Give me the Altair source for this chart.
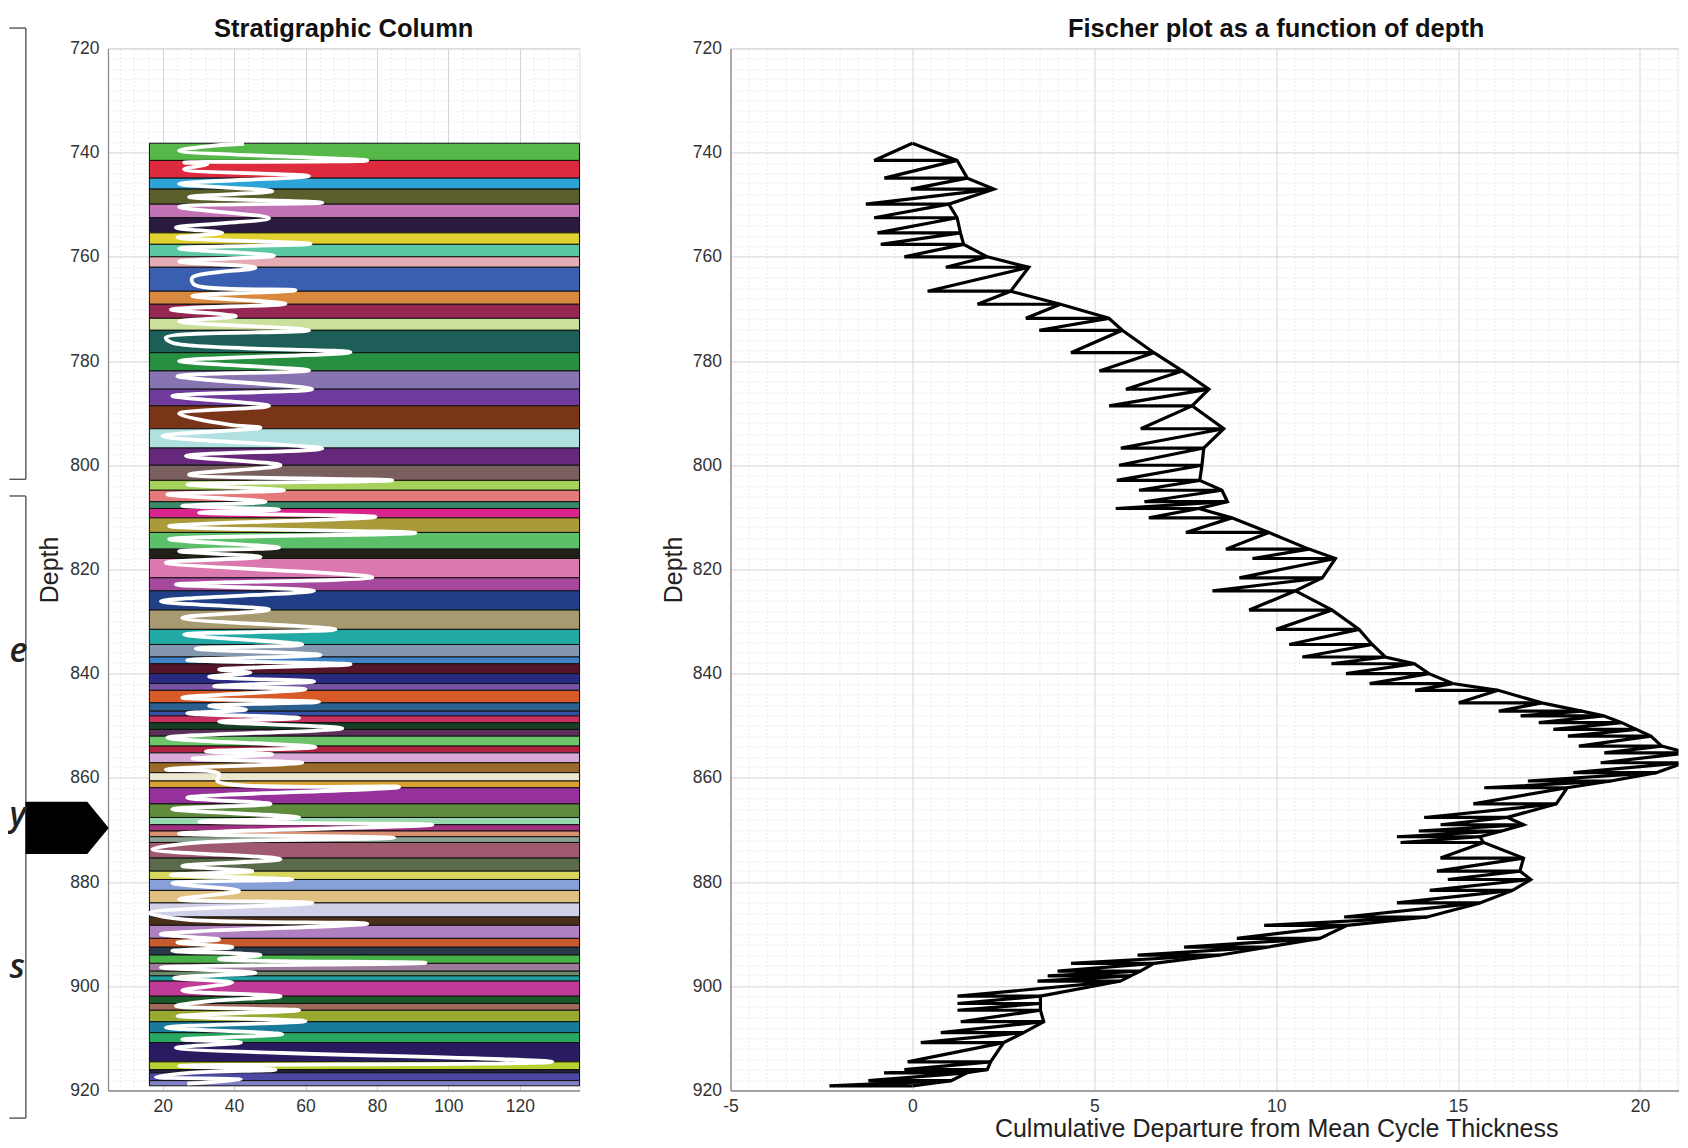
import altair as alt
import pandas as pd

# ---------------- data ----------------
# depths of the cycle (band) boundaries, top to bottom
band_edges = [738.2, 741.5, 744.9, 747.0, 749.9, 752.5, 755.4, 757.6, 760.0, 762.0,
              766.6, 769.1, 771.8, 774.1, 778.4, 781.9, 785.4, 788.6, 793.0, 796.7,
              800.0, 802.9, 804.8, 807.0, 808.3, 810.1, 812.9, 816.1, 817.9, 821.6,
              824.1, 827.8, 831.5, 834.4, 836.8, 838.1, 840.0, 841.9, 843.2, 845.6,
              847.2, 848.1, 849.4, 850.7, 852.0, 853.9, 855.2, 857.1, 859.0, 860.6,
              861.9, 865.0, 867.6, 869.0, 870.2, 871.3, 872.4, 875.4, 877.9, 879.5,
              881.6, 884.0, 886.7, 888.3, 890.8, 892.5, 894.0, 895.6, 897.1, 898.0,
              899.0, 901.9, 903.3, 904.6, 906.8, 908.9, 910.8, 914.5, 916.0, 916.6,
              918.1, 919.1]

band_colors = ["#55b848", "#dd2a3e", "#2ea3d6", "#5a5e2a", "#c172b5", "#2a1a40", "#e0d030", "#5cc7a5", "#e4adb5", "#3a5fb0",
               "#d8893d", "#962652", "#cbe09a", "#1d5e58", "#279040", "#8774b0", "#6e3b9c", "#7a3418", "#b0e0e0", "#66287a",
               "#7a5f5f", "#a6d15a", "#e57a7a", "#3a8a6a", "#d8248c", "#a99a3a", "#5cbf6a", "#1f1f17", "#dc78b0", "#a6489c",
               "#213f86", "#a89a70", "#22a8a5", "#8397ae", "#3f82c8", "#551528", "#2a2a80", "#7a55a5", "#d85a28", "#2a5f8e",
               "#3550a8", "#c83060", "#173f25", "#5a3058", "#6ec46a", "#b02040", "#d8a8d8", "#9a6a2a", "#ece8cf", "#d8a030",
               "#96309a", "#5f8c3c", "#98d8b0", "#a03080", "#d89070", "#8aa090", "#a05a70", "#5a6a4a", "#d8d860", "#88a0d8",
               "#e0c080", "#d0d0e8", "#4a3018", "#b080c0", "#c85a30", "#2a3a4a", "#48b048", "#a07a9a", "#6a8a6a", "#20a0a0",
               "#c03a98", "#1a5a2a", "#a06a5a", "#98a830", "#1a7a9a", "#28a860", "#2a1a60", "#b8d030", "#20203a", "#4a48a0",
               "#8080c8"]

column_left = 16.3
column_right = 136.7

# white well-log curve drawn over the column
log_depth = [738.3, 738.7, 739.6, 741.5, 741.9, 742.2, 743.2, 744.5, 746.0, 747.4,
             748.5, 749.6, 750.4, 752.6, 754.4, 755.4, 756.3, 757.5, 758.4, 759.8,
             760.9, 762.1, 764.0, 765.3, 766.4, 767.5, 769.0, 770.1, 771.4, 772.4,
             774.1, 775.5, 776.5, 778.3, 780.0, 781.8, 782.9, 785.4, 786.7, 788.6,
             790.1, 792.2, 792.8, 794.4, 796.8, 798.2,
             800.0, 801.8, 802.9, 803.7, 804.8, 805.6, 807.0, 807.8, 808.5, 809.1,
             809.9, 811.7, 813.0, 814.2, 815.8, 816.5, 817.6, 818.7, 821.5, 822.9,
             824.1, 826.1, 827.7, 829.3, 831.5, 832.5, 834.4, 835.2, 836.4, 837.4,
             838.2, 839.2, 839.8, 840.6, 841.5, 842.4, 843.0, 844.6, 845.4, 846.2,
             846.9, 847.6, 848.5, 849.2, 850.5, 852.3, 854.1, 854.9, 855.5, 856.3,
             857.1, 858.4, 859.2,
             860.6, 861.75, 863.8, 865.0, 866.0, 867.6, 868.4, 869.0, 870.7, 871.5,
             872.4, 873.7, 875.6, 876.9, 877.9, 878.6, 879.5, 880.2, 881.7, 883.3,
             884.0, 885.9, 887.2, 888.0, 890.0, 891.0, 891.6, 892.5, 893.2, 894.0,
             894.8, 895.5, 896.4, 897.4, 898.4, 899.3, 900.8, 901.9, 902.8, 903.8,
             904.6, 905.7, 906.7, 907.9, 909.2, 910.2, 910.8, 911.8, 914.5, 915.3,
             916.0, 916.6, 917.4, 917.9, 918.7]
log_value = [42.8, 33.9, 24.6, 77.3, 26.0, 32.5, 26.0, 61.0, 24.6, 50.7,
             27.4, 64.7, 24.6, 49.8, 23.7, 36.7, 24.1, 61.4, 24.6, 51.2,
             24.6, 46.0, 28.3, 28.8, 57.2, 28.3, 54.4, 22.3, 40.5, 24.6,
             61.0, 20.9, 22.7, 72.6, 24.6, 61.0, 24.1, 61.9, 22.7, 49.8,
             24.6, 38.6, 47.4, 19.9, 64.7, 26.5,
             53.0, 27.4, 84.3, 26.9, 54.0, 21.3, 48.8, 25.5, 52.6, 30.2,
             79.6, 21.8, 90.8, 21.8, 52.6, 24.6, 47.4, 20.9, 78.7, 23.7,
             62.4, 19.5, 49.8, 25.5, 68.4, 26.0, 59.1, 29.3, 64.2, 26.9,
             72.6, 35.8, 44.6, 33.0, 62.4, 34.4, 60.0, 25.5, 63.8, 33.0,
             43.3, 26.9, 58.2, 35.8, 70.3, 21.3, 62.8, 32.1, 50.7, 28.3,
             59.1, 20.9, 35.8,
             35.3, 86.2, 26.9, 50.2, 22.7, 58.2, 30.2, 95.5, 24.6, 84.8,
             30.7, 17.1, 53.0, 25.5, 45.1, 22.3, 56.3, 22.7, 41.4, 24.6,
             61.9, 16.2, 26.5, 77.3, 19.5, 35.8, 24.1, 39.5, 22.7, 47.4,
             35.8, 93.6, 19.5, 46.0, 23.2, 39.5, 25.5, 53.0, 33.9, 23.7,
             58.2, 24.1, 60.0, 20.9, 53.5, 25.5, 41.9, 23.7, 129.1, 24.6,
             51.6, 27.4, 18.1, 41.9, 26.9]

# Fischer plot: cumulative departure at each cycle boundary (right vertices)
cum_right = [0.00, 1.23, 1.51, 2.24, 1.00, 1.23, 1.32, 1.41, 2.06, 3.20,
             2.70, 4.07, 5.40, 5.77, 6.64, 7.42, 8.15, 7.69, 8.56, 8.01,
             7.96, 7.90, 8.51, 8.66, 7.87, 8.78, 9.80, 10.90, 11.63, 11.27,
             10.53, 11.54, 12.28, 12.64, 13.00, 13.80, 14.20, 14.85, 16.10, 17.30,
             18.40, 19.00, 19.50, 19.90, 20.30, 20.60, 21.30, 21.20, 20.45, 19.20,
             18.00, 17.70, 16.35, 16.80, 16.20, 15.60, 15.70, 16.80, 16.70, 17.00,
             16.50, 15.60, 14.15, 11.95, 11.20, 9.75, 8.47, 6.64, 6.27, 6.00,
             5.72, 3.52, 3.52, 3.52, 3.61, 3.06, 2.51, 2.15, 2.06, 1.50,
             1.07, 0.00]
# left ends of the horizontal steps (boundaries 1..81)
cum_left = [-1.05, -0.77, -0.04, -1.28, -1.05, -0.96, -0.87, -0.22, 0.92,
            0.42, 1.79, 3.12, 3.49, 4.36, 5.14, 5.87, 5.41, 6.28, 5.73,
            5.68, 5.62, 6.23, 6.38, 5.59, 6.50, 7.52, 8.62, 9.35, 8.99,
            8.25, 9.26, 10.00, 10.36, 10.72, 11.52, 11.92, 12.57, 13.82, 15.02,
            16.12, 16.72, 17.22, 17.62, 18.02, 18.32, 19.02, 18.92, 18.17, 16.92,
            15.72, 15.42, 14.07, 14.52, 13.92, 13.32, 13.42, 14.52, 14.42, 14.72,
            14.22, 13.32, 11.87, 9.67, 8.92, 7.47, 6.19, 4.36, 3.99, 3.72,
            3.44, 1.24, 1.24, 1.24, 1.33, 0.78, 0.23, -0.13, -0.22, -0.78,
            -1.21, -2.28]

# slide call-outs at the left edge (in the column's depth / value units)
box_left = -22.9
box_right = -18.3
box_tops = [716.1, 805.9]
box_bottoms = [802.7, 925.3]
arrow_depth = [864.6, 869.6, 874.6]
arrow_tip = [-1.1, 4.9, -1.1]
arrow_tail = [-18.4, -18.4, -18.4]
letters = ["e", "y", "s"]
letter_depth = [835.8, 867.3, 896.4]

# grid positions
left_x_grid = list(range(8, 137, 4))
depth_grid = list(range(720, 921, 2))
right_x_grid = [-5 + 0.5 * k for k in range(53)]

# ---------------- frames ----------------
bands_df = pd.DataFrame({"top": band_edges[:-1], "bottom": band_edges[1:],
                         "color": band_colors, "x0": column_left, "x1": column_right})
log_df = pd.DataFrame({"depth": log_depth, "value": log_value, "i": list(range(len(log_depth)))})

zig_x, zig_y = [cum_right[0]], [band_edges[0]]
for k in range(1, len(band_edges)):
    zig_x += [cum_left[k - 1], cum_right[k]]
    zig_y += [band_edges[k], band_edges[k]]
zig_df = pd.DataFrame({"x": zig_x, "depth": zig_y, "i": list(range(len(zig_x)))})
env_df = pd.DataFrame({"x": cum_right, "depth": band_edges, "i": list(range(len(cum_right)))})

box_h_df = pd.DataFrame({"depth": box_tops + box_bottoms, "x0": box_left, "x1": box_right})
box_v_df = pd.DataFrame({"top": box_tops, "bottom": box_bottoms, "x": box_right})
arrow_df = pd.DataFrame({"depth": arrow_depth, "tip": arrow_tip, "tail": arrow_tail})
letter_df = pd.DataFrame({"t": letters, "depth": letter_depth, "x": box_left})

FONT = "Liberation Sans"
W_L, W_R, H = 471.5, 948.0, 1042.1


def cond(major, yes, no):
    return {"condition": {"test": f"abs(datum.value % {major}) < 1e-6", "value": yes}, "value": no}


def make_axis(values, major, title=None, **kw):
    return alt.Axis(values=values, title=title,
                    labelExpr=(f"abs(datum.value % {major}) < 1e-6 ? "
                               "replace(format(datum.value, 'd'), '\u2212', '-') : ''"),
                    grid=True, gridColor=cond(major, "#d4d4d4", "#e4e4e4"),
                    gridDash=cond(major, [], [1.5, 2.5]), gridWidth=1,
                    ticks=False, tickSize=0, domain=True, domainColor="#8c8c8c", domainWidth=1.3,
                    labelFont=FONT, labelFontSize=17.5, labelColor="#333333",
                    labelOverlap=False, labelFlush=False,
                    titleFont=FONT, titleFontSize=25, titleFontWeight="normal", titleColor="#222222",
                    **kw)


ys = alt.Scale(domain=[720, 920], reverse=True, nice=False, zero=False)
xs_left = alt.Scale(domain=[4.7, 136.7], nice=False, zero=False)
xs_right = alt.Scale(domain=[-5, 21.06], nice=False, zero=False)

left_y_axis = make_axis(depth_grid, 20, "Depth", labelPadding=9, titleX=-58.4, titleY=H / 2,
                        titleAngle=-90, titleAlign="center", titleBaseline="middle")
left_x_axis = make_axis(left_x_grid, 20, labelPadding=7)
right_y_axis = make_axis(depth_grid, 20, "Depth", labelPadding=9, titleX=-57, titleY=H / 2,
                         titleAngle=-90, titleAlign="center", titleBaseline="middle")
right_x_axis = make_axis(right_x_grid, 5, "Culmulative Departure from Mean Cycle Thickness",
                         labelPadding=7, titleX=545.7, titleY=46, titleAlign="center",
                         titleBaseline="alphabetic")


def LX(f):
    return alt.X(f, scale=xs_left, axis=left_x_axis)


def LY(f):
    return alt.Y(f, scale=ys, axis=left_y_axis)


bands = alt.Chart(bands_df).mark_rect(stroke="#111111", strokeWidth=1).encode(
    x=LX("x0:Q"), x2="x1:Q", y=LY("top:Q"), y2="bottom:Q",
    fill=alt.Fill("color:N", scale=None))
white = alt.Chart(log_df).mark_line(color="white", strokeWidth=3.8, strokeJoin="round",
                                    interpolate="catmull-rom").encode(
    x=LX("value:Q"), y=LY("depth:Q"), order="i:Q")
box_h = alt.Chart(box_h_df).mark_rule(color="#555555", strokeWidth=1.4, clip=False).encode(
    x=LX("x0:Q"), x2="x1:Q", y=LY("depth:Q"))
box_v = alt.Chart(box_v_df).mark_rule(color="#555555", strokeWidth=1.4, clip=False).encode(
    x=LX("x:Q"), y=LY("top:Q"), y2="bottom:Q")
arrow = alt.Chart(arrow_df).mark_area(orient="horizontal", color="#000000", clip=False).encode(
    y=LY("depth:Q"), x=LX("tip:Q"), x2="tail:Q")
txt = alt.Chart(letter_df).mark_text(font="Open Sans", fontSize=34, fontStyle="italic", fontWeight=600,
                                     align="left", baseline="middle", color="#222222", clip=False).encode(
    x=LX("x:Q"), y=LY("depth:Q"), text="t:N")

left = alt.layer(bands, white, box_h, box_v, arrow, txt).properties(
    width=W_L, height=H,
    title=alt.TitleParams("Stratigraphic Column", font=FONT, fontSize=25.5, fontWeight="bold",
                          color="#111111", frame="group", anchor="middle", offset=-35,
                          baseline="alphabetic"))


def RX(f):
    return alt.X(f, scale=xs_right, axis=right_x_axis)


def RY(f):
    return alt.Y(f, scale=ys, axis=right_y_axis)


zig = alt.Chart(zig_df).mark_line(color="black", strokeWidth=3.2, strokeJoin="miter", clip=True).encode(
    x=RX("x:Q"), y=RY("depth:Q"), order="i:Q")
env = alt.Chart(env_df).mark_line(color="black", strokeWidth=3.2, clip=True).encode(
    x=RX("x:Q"), y=RY("depth:Q"), order="i:Q")

right = alt.layer(zig, env).properties(
    width=W_R, height=H,
    title=alt.TitleParams("Fischer plot as a function of depth", font=FONT, fontSize=25.5, fontWeight="bold",
                          color="#111111", frame="group", anchor="middle", offset=-23, dx=71.7,
                          baseline="alphabetic"))

chart = alt.hconcat(left, right, spacing=79.5).properties(
    padding={"left": 0, "top": 7.4, "right": 0, "bottom": -1}
).configure_view(stroke=None).configure(background="white")

chart.save("out.html", embed_options={"renderer": "svg", "actions": False})
